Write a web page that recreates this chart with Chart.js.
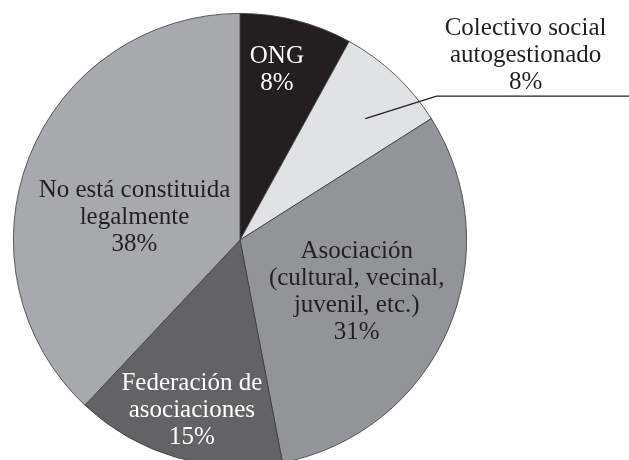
<!DOCTYPE html>
<html lang="es">
<head>
<meta charset="utf-8">
<title>Tipo de entidad</title>
<script src="https://cdn.jsdelivr.net/npm/chart.js@4.4.1/dist/chart.umd.min.js"></script>
<style>
  html, body { margin: 0; padding: 0; background: #fff; overflow: hidden; }
  #wrap { position: relative; width: 629px; height: 480px; }
</style>
</head>
<body>
<div id="wrap"><canvas id="chartEntidad"></canvas></div>
<script>
// datos del gráfico (de arriba, en sentido horario)
const categorias = [
  ['ONG'],
  ['Colectivo social', 'autogestionado'],
  ['Asociación', '(cultural, vecinal,', 'juvenil, etc.)'],
  ['Federación de', 'asociaciones'],
  ['No está constituida', 'legalmente']
];
const porcentajes = [8, 8, 31, 15, 38];

const colores = ['#231f20', '#e1e2e3', '#939497', '#636365', '#a8a9ac'];
const coloresTexto = ['#ffffff', '#231f20', '#231f20', '#ffffff', '#231f20'];

// posición de cada etiqueta: fracción del radio y ajuste de ángulo (grados)
const etiquetaRadio = [0.77, 0, 0.563, 0.78, 0.476];
const etiquetaGiro = [-2.2, 0, 0.4, -0.4, -9.6];

const FUENTE = '25px "Liberation Serif", "DejaVu Serif", serif';
const INTERLINEA = 27;

function textoMultilinea(ctx, lineas, x, yCentro) {
  const y0 = yCentro - (lineas.length - 1) * INTERLINEA / 2;
  lineas.forEach((l, i) => ctx.fillText(l, x, y0 + i * INTERLINEA));
}

const etiquetasPlugin = {
  id: 'etiquetas',
  afterDatasetsDraw(chart) {
    const ctx = chart.ctx;
    const arcs = chart.getDatasetMeta(0).data;
    ctx.save();
    ctx.font = FUENTE;
    ctx.textAlign = 'center';
    ctx.textBaseline = 'middle';
    arcs.forEach((arc, i) => {
      const p = arc.getProps(['x', 'y', 'startAngle', 'endAngle', 'outerRadius'], true);
      const medio = (p.startAngle + p.endAngle) / 2;
      const lineas = categorias[i].concat([porcentajes[i] + '%']);
      if (i === 1) {
        // etiqueta exterior con línea guía
        const a1 = medio + 2.7 * Math.PI / 180;
        const a2 = medio + 10.6 * Math.PI / 180;
        const x1 = p.x + Math.cos(a1) * p.outerRadius * 0.77;
        const y1 = p.y + Math.sin(a1) * p.outerRadius * 0.77;
        const x2 = p.x + Math.cos(a2) * p.outerRadius * 1.075;
        const y2 = p.y + Math.sin(a2) * p.outerRadius * 1.075;
        ctx.strokeStyle = '#231f20';
        ctx.lineWidth = 1.2;
        ctx.beginPath();
        ctx.moveTo(x1, y1);
        ctx.lineTo(x2, y2);
        ctx.lineTo(chart.width, y2);
        ctx.stroke();
        ctx.fillStyle = coloresTexto[i];
        textoMultilinea(ctx, lineas, x2 + 89, y2 - 41);
        return;
      }
      const a = medio + etiquetaGiro[i] * Math.PI / 180;
      const r = p.outerRadius * etiquetaRadio[i];
      ctx.fillStyle = coloresTexto[i];
      textoMultilinea(ctx, lineas, p.x + Math.cos(a) * r, p.y + Math.sin(a) * r);
    });
    ctx.restore();
  }
};

new Chart(document.getElementById('chartEntidad'), {
  type: 'pie',
  data: {
    labels: categorias.map(c => c.join(' ')),
    datasets: [{
      data: porcentajes,
      backgroundColor: colores,
      borderColor: '#3a3a3a',
      borderWidth: 0.8
    }]
  },
  options: {
    responsive: true,
    maintainAspectRatio: false,
    animation: false,
    layout: { padding: { left: 13, right: 162, top: 13, bottom: 13 } },
    plugins: {
      legend: { display: false },
      tooltip: { enabled: false }
    }
  },
  plugins: [etiquetasPlugin]
});
</script>
</body>
</html>
